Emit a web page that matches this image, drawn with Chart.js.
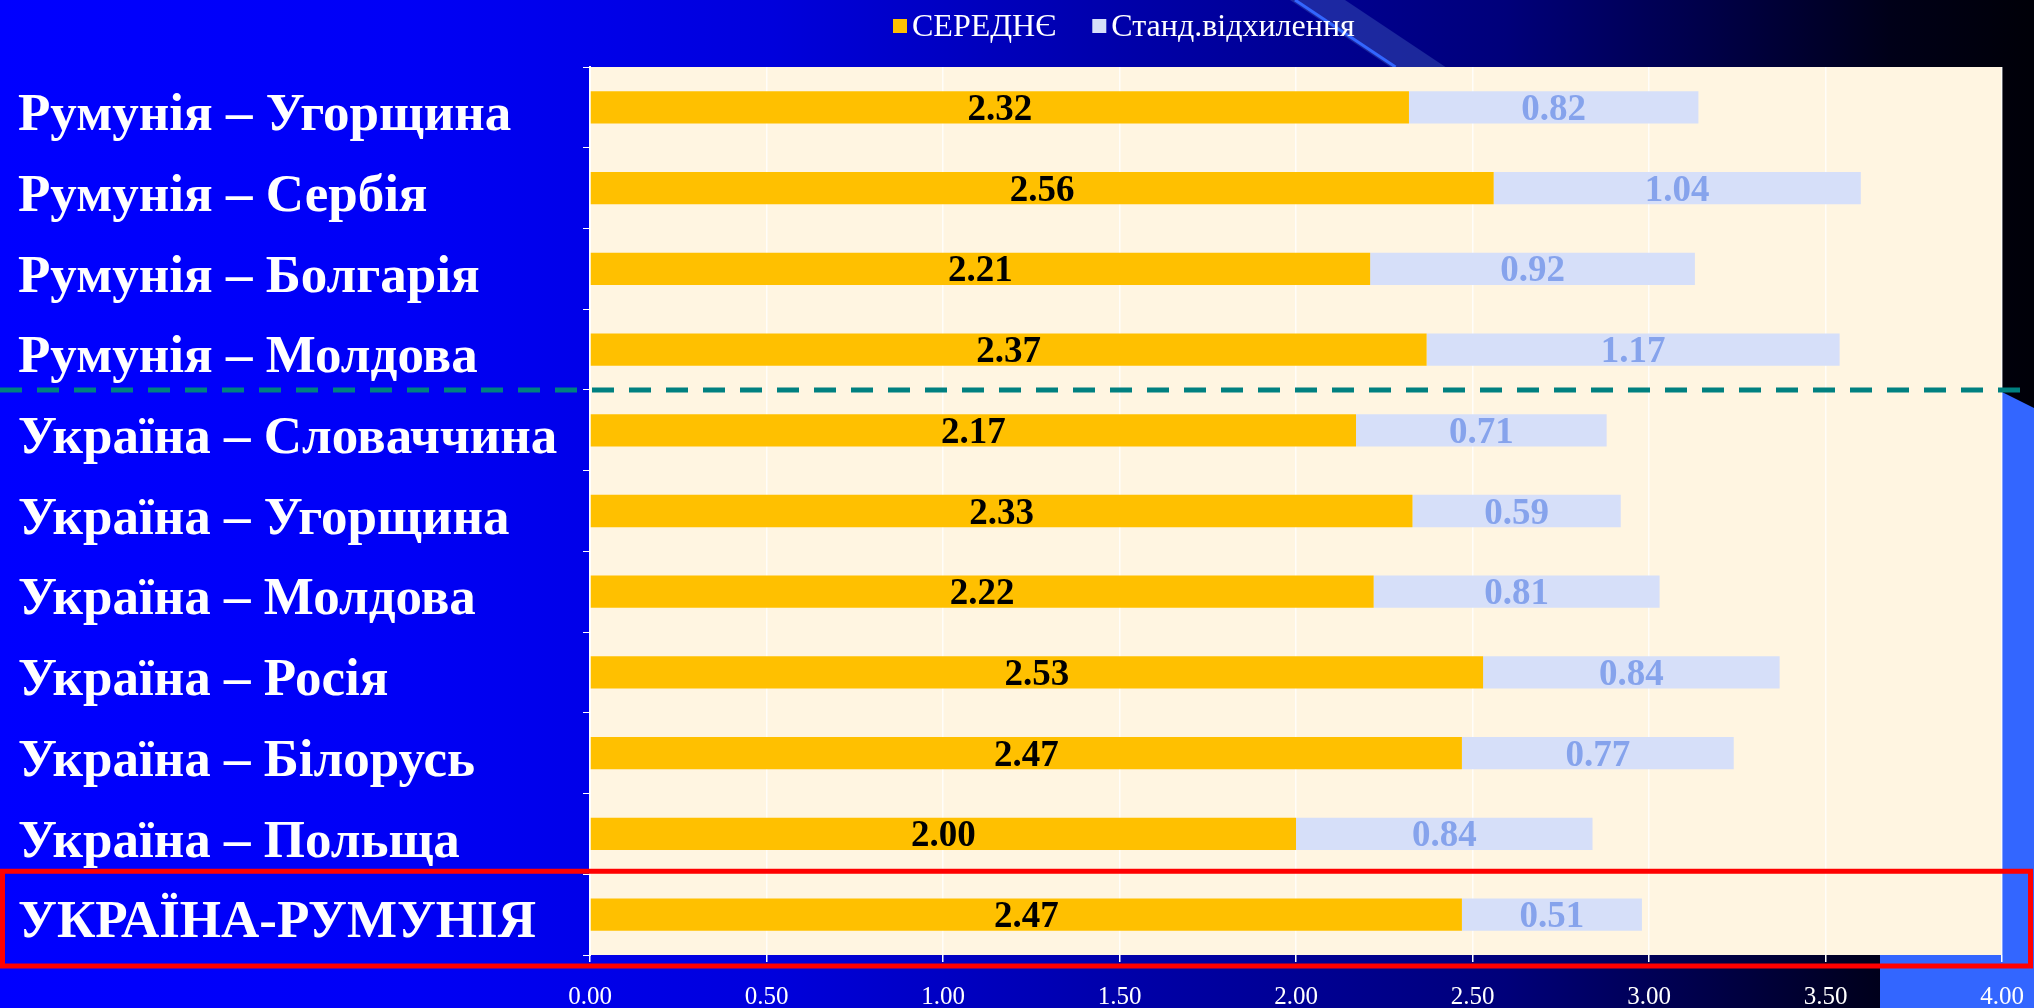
<!DOCTYPE html>
<html lang="uk">
<head>
<meta charset="UTF-8">
<title>Середнє та стандартне відхилення</title>
<script src="https://cdn.jsdelivr.net/npm/chart.js"></script>
<style>
  html, body { margin: 0; padding: 0; background: #0000ff; overflow: hidden; }
  #wrap { width: 2034px; height: 1008px; }
</style>
</head>
<body>
<div id="wrap"><canvas id="myChart" width="2034" height="1008"></canvas></div>
<script>
// pairs of countries, top to bottom
const pairs = [
    "Румунія – Угорщина",
    "Румунія – Сербія",
    "Румунія – Болгарія",
    "Румунія – Молдова",
    "Україна – Словаччина",
    "Україна – Угорщина",
    "Україна – Молдова",
    "Україна – Росія",
    "Україна – Білорусь",
    "Україна – Польща",
    "УКРАЇНА-РУМУНІЯ",
];
const means = [2.32, 2.56, 2.21, 2.37, 2.17, 2.33, 2.22, 2.53, 2.47, 2.0, 2.47];
const deviations = [0.82, 1.04, 0.92, 1.17, 0.71, 0.59, 0.81, 0.84, 0.77, 0.84, 0.51];
const xTickValues = [0, 0.5, 1, 1.5, 2, 2.5, 3, 3.5, 4];

const SERIF = "'Times New Roman', 'Liberation Serif', serif";
const valueColors = ["#000000", "#86a3ec"];

// slide background, decoration and the cream plot area
const backdrop = {
    id: "backdrop",
    beforeDraw(chart) {
        const { ctx, width, height, chartArea: a } = chart;
        const y = chart.scales.y;
        const split = (y.getPixelForValue(3) + y.getPixelForValue(4)) / 2;
        ctx.save();
        const g = ctx.createLinearGradient(0, 0, width, 0);
        g.addColorStop(0, "#0000ff");
        g.addColorStop(0.2, "#0000f6");
        g.addColorStop(0.38, "#0000dc");
        g.addColorStop(0.55, "#0000aa");
        g.addColorStop(0.74, "#00007a");
        g.addColorStop(0.84, "#000048");
        g.addColorStop(0.93, "#000018");
        g.addColorStop(1, "#000008");
        ctx.fillStyle = g;
        ctx.fillRect(0, 0, width, height);

        // diagonal stripe at the top
        ctx.fillStyle = "rgba(70, 100, 190, 0.4)";
        ctx.beginPath();
        ctx.moveTo(1290, 0);
        ctx.lineTo(1345, 0);
        ctx.lineTo(1345 + a.top * 1.5, a.top);
        ctx.lineTo(1290 + a.top * 1.5, a.top);
        ctx.closePath();
        ctx.fill();
        ctx.strokeStyle = "#3366ff";
        ctx.lineWidth = 3;
        ctx.beginPath();
        ctx.moveTo(1295, 0);
        ctx.lineTo(1295 + a.top * 1.5, a.top);
        ctx.stroke();

        // light blue block on the right
        ctx.fillStyle = "#3366ff";
        ctx.beginPath();
        ctx.moveTo(a.right, split + 2);
        ctx.lineTo(width, split + 18);
        ctx.lineTo(width, height);
        ctx.lineTo(1880, height);
        ctx.lineTo(1880, a.bottom);
        ctx.lineTo(a.right, a.bottom);
        ctx.closePath();
        ctx.fill();

        ctx.fillStyle = "#fff5e1";
        ctx.fillRect(a.left, a.top, a.right - a.left, a.bottom - a.top);
        ctx.restore();
    },
};

// numbers inside the bars
const barValues = {
    id: "barValues",
    afterDatasetsDraw(chart) {
        const ctx = chart.ctx;
        ctx.save();
        ctx.font = "bold 37px " + SERIF;
        ctx.textAlign = "center";
        ctx.textBaseline = "middle";
        chart.data.datasets.forEach((ds, i) => {
            const meta = chart.getDatasetMeta(i);
            meta.data.forEach((bar, j) => {
                ctx.fillStyle = valueColors[i];
                ctx.fillText(ds.data[j].toFixed(2), (bar.x + bar.base) / 2, bar.y + 3);
            });
        });
        ctx.restore();
    },
};

// legend, dashed separator and the red frame
const overlay = {
    id: "overlay",
    afterDraw(chart) {
        const { ctx, width } = chart;
        const y = chart.scales.y;
        ctx.save();

        ctx.font = "32px " + SERIF;
        ctx.textBaseline = "middle";
        let lx = 893;
        chart.data.datasets.forEach((ds) => {
            ctx.fillStyle = ds.backgroundColor;
            ctx.fillRect(lx, 19, 14, 14);
            ctx.fillStyle = "#ffffff";
            ctx.fillText(ds.label, lx + 19, 28);
            lx += 19 + ctx.measureText(ds.label).width + 36;
        });

        const split = (y.getPixelForValue(3) + y.getPixelForValue(4)) / 2;
        ctx.strokeStyle = "#008080";
        ctx.lineWidth = 5;
        ctx.setLineDash([22, 15]);
        ctx.beginPath();
        ctx.moveTo(0, split);
        ctx.lineTo(width, split);
        ctx.stroke();

        const last = pairs.length - 1;
        const top = (y.getPixelForValue(last - 1) + y.getPixelForValue(last)) / 2 - 3;
        ctx.setLineDash([]);
        ctx.strokeStyle = "#ff0000";
        ctx.lineWidth = 5;
        ctx.strokeRect(2.5, top, 2028, y.bottom + 11 - top);
        ctx.restore();
    },
};

const ctx = document.getElementById("myChart").getContext("2d");
const myChart = new Chart(ctx, {
    type: "bar",
    data: {
        labels: pairs,
        datasets: [
            {
                label: "СЕРЕДНЄ",
                data: means,
                backgroundColor: "#ffc000",
                barPercentage: 0.4,
                categoryPercentage: 1,
            },
            {
                label: "Станд.відхилення",
                data: deviations,
                backgroundColor: "#d6dff9",
                barPercentage: 0.4,
                categoryPercentage: 1,
            },
        ],
    },
    options: {
        responsive: false,
        animation: false,
        indexAxis: "y",
        layout: { padding: { top: 67, left: 18, right: 32, bottom: 0 } },
        plugins: {
            legend: { display: false },
            tooltip: { enabled: false },
        },
        scales: {
            x: {
                stacked: true,
                min: 0,
                max: 4,
                afterBuildTicks(scale) {
                    scale.ticks = xTickValues.map((v) => ({ value: v }));
                },
                afterFit(scale) {
                    scale.height = 53;
                    scale.paddingLeft = 0;
                    scale.paddingRight = 0;
                },
                ticks: {
                    color: "#ffffff",
                    font: { family: SERIF, size: 25 },
                    padding: 20,
                    callback: (v) => Number(v).toFixed(2),
                },
                grid: {
                    color: "rgba(255, 255, 255, 0.8)",
                    lineWidth: 1.5,
                    tickColor: "#ffffff",
                    tickLength: 7,
                },
                border: { display: false },
            },
            y: {
                stacked: true,
                afterFit(scale) {
                    scale.width = 572;
                },
                ticks: {
                    color: "#ffffff",
                    crossAlign: "far",
                    autoSkip: false,
                    labelOffset: 9,
                    font: { family: SERIF, size: 53, weight: "bold" },
                },
                grid: {
                    drawOnChartArea: false,
                    color: "#ffffff",
                    tickLength: 7,
                },
                border: { color: "#ffffff", width: 2 },
            },
        },
    },
    plugins: [backdrop, barValues, overlay],
});
</script>
</body>
</html>
